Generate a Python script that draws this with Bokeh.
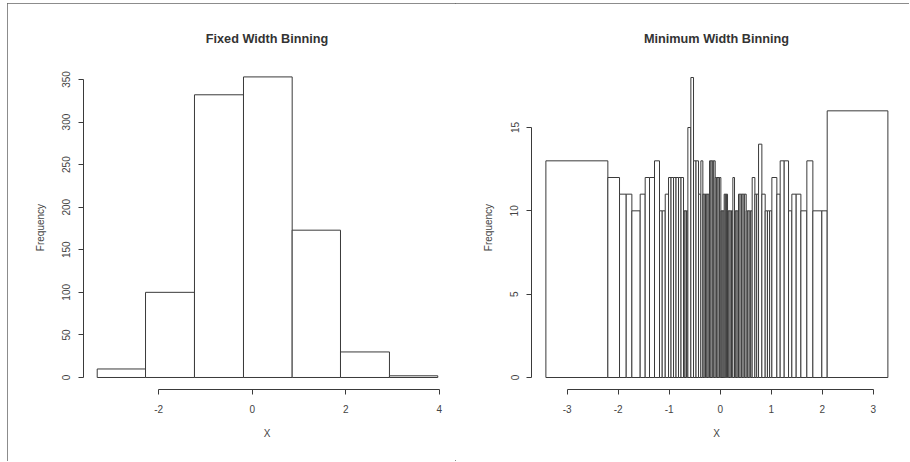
from bokeh.plotting import figure
from bokeh.layouts import row, column
from bokeh.models import FixedTicker, Range1d, Spacer
from bokeh.embed import file_html
from bokeh.resources import INLINE

# ---- Fixed width binning (left) ----
fixed_edges = [-3.314, -2.281, -1.234, -0.186, 0.855, 1.888, 2.935, 3.968]
fixed_counts = [10, 100, 332, 353, 173, 30, 2]
fixed_xticks = [-2, 0, 2, 4]
fixed_yticks = [0, 50, 100, 150, 200, 250, 300, 350]

# ---- Minimum width binning (right) ----
min_edges = [-3.418, -2.203, -1.974, -1.843, -1.732, -1.569, -1.471, -1.386, -1.288,
             -1.190, -1.137, -1.078,
             -1.013, -0.964, -0.915, -0.866, -0.817, -0.768, -0.719,
             -0.691, -0.662, -0.634,
             -0.575, -0.523, -0.474, -0.425, -0.379, -0.340,
             -0.314, -0.288, -0.261, -0.235, -0.209,
             -0.181, -0.154, -0.126, -0.098,
             -0.070, -0.042, -0.015, 0.013,
             0.035, 0.057, 0.078,
             0.100, 0.122, 0.144,
             0.170, 0.196, 0.222, 0.248,
             0.281,
             0.307, 0.333, 0.359,
             0.390, 0.420, 0.450, 0.480, 0.510,
             0.539, 0.569, 0.598, 0.627,
             0.680, 0.716, 0.752, 0.817, 0.882, 0.926, 0.969, 1.013, 1.111,
             1.176, 1.255, 1.340, 1.405, 1.490, 1.582, 1.699, 1.817, 1.993,
             2.098, 3.288]
min_counts = [13, 12, 11, 11, 10, 11, 12, 12, 13,
              10, 10,
              11,
              12, 12, 12, 12, 12, 12,
              10, 10, 10,
              15, 18, 13, 13, 11, 13,
              11, 11, 11, 11, 11,
              13, 13, 13, 13,
              12, 12, 12, 12,
              10, 10, 10,
              11, 11, 11,
              10, 10, 10, 10,
              12,
              10, 10, 10,
              11, 11, 11, 11, 11,
              10, 10, 10, 10,
              12, 11, 11, 14, 11, 10, 10, 10,
              12, 11, 13, 13, 10, 11, 11, 10, 13, 10, 10, 16]
min_xticks = [-3, -2, -1, 0, 1, 2, 3]
min_yticks = [0, 5, 10, 15]

FONT = "Liberation Sans"
INK = "#3a3a3a"
TXT = "#444444"


def panel(title, edges, counts, xticks, yticks, xr, yr, width, bl, br):
    p = figure(width=width, height=458, x_range=Range1d(*xr), y_range=Range1d(*yr),
               output_backend="svg", toolbar_location=None, title=title,
               min_border_left=bl, min_border_right=br,
               min_border_top=62, min_border_bottom=72)
    p.quad(left=edges[:-1], right=edges[1:], bottom=0, top=counts,
           fill_color="white", line_color=INK, line_width=1)
    p.grid.visible = False
    p.outline_line_color = None
    p.background_fill_color = "white"
    p.border_fill_color = "white"

    p.title.text_font = FONT
    p.title.text_font_size = "12.7px"
    p.title.text_font_style = "bold"
    p.title.text_color = "#333333"
    p.title.align = "center"
    p.title.standoff = 40

    for ax in (p.xaxis[0], p.yaxis[0]):
        ax.axis_line_color = INK
        ax.major_tick_line_color = INK
        ax.major_tick_out = 5
        ax.major_tick_in = 0
        ax.minor_tick_line_color = None
        ax.major_label_text_font = FONT
        ax.major_label_text_font_size = "10px"
        ax.major_label_text_color = TXT
        ax.axis_label_text_font = FONT
        ax.axis_label_text_font_size = "10px"
        ax.axis_label_text_font_style = "normal"
        ax.axis_label_text_color = TXT

    xa = p.xaxis[0]
    xa.ticker = FixedTicker(ticks=xticks, minor_ticks=[])
    xa.bounds = (xticks[0], xticks[-1])
    xa.major_label_overrides = {t: str(t) for t in xticks}
    xa.major_label_standoff = 10
    xa.axis_label = "X"
    xa.axis_label_standoff = 12

    ya = p.yaxis[0]
    ya.ticker = FixedTicker(ticks=yticks, minor_ticks=[])
    ya.bounds = (yticks[0], yticks[-1])
    ya.major_label_overrides = {t: str(t) for t in yticks}
    ya.major_label_orientation = "parallel"
    ya.major_label_standoff = 8
    ya.axis_label = "Frequency"
    ya.axis_label_standoff = 14
    return p


p1 = panel("Fixed Width Binning", fixed_edges, fixed_counts, fixed_xticks, fixed_yticks,
           (-3.607, 4.240), (-14.1, 366.4), 448, 76, 5)
p2 = panel("Minimum Width Binning", min_edges, min_counts, min_xticks, min_yticks,
           (-3.700, 3.555), (-0.72, 18.72), 454, 76, 8)

inner = row(p1, p2, styles={"outline": "1px solid #666666", "outline-offset": "-1px"})
layout = column(Spacer(height=3, width=909), row(Spacer(width=7, height=458), inner))

open("out.html", "w").write(file_html(layout, INLINE))
